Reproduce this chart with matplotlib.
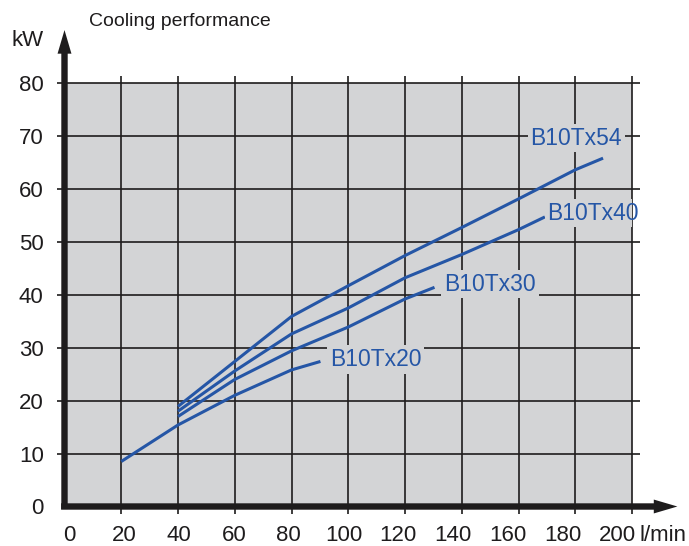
import matplotlib.pyplot as plt
import numpy as np

plt.rcParams['font.family'] = ['Liberation Sans', 'DejaVu Sans']

# === Dados ===
x_20 = [20, 40, 60, 80, 90.2]
y_20 = [8.5, 15.4, 21.0, 25.8, 27.4]

x_30 = [40, 60, 80, 100, 120, 130.4]
y_30 = [17.0, 24.0, 29.4, 33.9, 39.2, 41.4]

x_40 = [40, 60, 80, 100, 120, 140, 160, 169.3]
y_40 = [18.0, 25.6, 32.6, 37.5, 43.2, 47.6, 52.3, 54.7]

x_54 = [40, 60, 80, 100, 120, 140, 160, 180, 189.8]
y_54 = [18.9, 27.4, 35.9, 41.7, 47.4, 52.7, 58.1, 63.6, 65.8]

curvas = [
    ('B10Tx20', x_20, y_20, (93.5, 27.8)),
    ('B10Tx30', x_30, y_30, (133.8, 42.0)),
    ('B10Tx40', x_40, y_40, (170.2, 55.4)),
    ('B10Tx54', x_54, y_54, (164.2, 69.6)),
]

grade_x = [20, 40, 60, 80, 100, 120, 140, 160, 180, 200]
grade_y = [10, 20, 30, 40, 50, 60, 70, 80]

# no original os rótulos do eixo x ficam um pouco deslocados da grade
x_labels = ['0', '20', '40', '60', '80', '100', '120', '140', '160', '180', '200']
x_label_pos = [1.8, 21.1, 40.4, 59.7, 79.0, 98.3, 117.6, 136.9, 156.2, 175.5, 194.9]
y_ticks = [0, 10, 20, 30, 40, 50, 60, 70, 80]

azul = '#2556a6'
cinza = '#d3d4d6'
preto = '#1e1c1d'

fig = plt.figure(figsize=(6.89, 5.46), dpi=100)
ax = fig.add_axes([64.5 / 689, 1 - 506.5 / 546, 567.5 / 689, 423.5 / 546])
ax.set_xlim(0, 200)
ax.set_ylim(0, 80)
ax.set_facecolor(cinza)
for s in ax.spines.values():
    s.set_visible(False)

# === Grade (passa um pouco para fora da área) ===
ax.vlines(grade_x, -1.5, 81.4, color=preto, lw=1.2, clip_on=False, zorder=1)
ax.hlines(grade_y, -2.5, 202.7, color=preto, lw=1.2, clip_on=False, zorder=1)

# === Curvas ===
for nome, xs, ys, pos in curvas:
    ax.plot(xs, ys, color=azul, lw=2.2, zorder=3, solid_capstyle='butt')
    t = ax.text(pos[0], pos[1], nome, color=azul, fontsize=16.5, ha='left',
                va='center', zorder=4,
                bbox=dict(boxstyle='square,pad=0.12', fc=cinza, ec='none'))
    caixa = t.get_bbox_patch()
    caixa.set_clip_on(True)
    caixa.set_clip_box(ax.bbox)

# === Eixos com setas ===
estilo = 'simple,head_length=1.7,head_width=1.0,tail_width=0.46'
ax.annotate('', xy=(0, 1.125), xytext=(0, -0.006), xycoords='axes fraction',
            arrowprops=dict(arrowstyle=estilo, mutation_scale=10, color=preto,
                            lw=0, shrinkA=0, shrinkB=0),
            annotation_clip=False, zorder=6)
ax.annotate('', xy=(1.08, 0), xytext=(-0.006, 0), xycoords='axes fraction',
            arrowprops=dict(arrowstyle=estilo, mutation_scale=10, color=preto,
                            lw=0, shrinkA=0, shrinkB=0),
            annotation_clip=False, zorder=6)

ax.set_xticks(x_label_pos, x_labels)
ax.set_yticks(y_ticks)
ax.tick_params(axis='both', length=0, labelsize=16, labelcolor=preto)
ax.tick_params(axis='x', pad=13)
ax.tick_params(axis='y', pad=15)

ax.annotate('l/min', xy=(202.6, 0), xytext=(0, -13), textcoords='offset points',
            ha='left', va='top', fontsize=16, color=preto, annotation_clip=False)
fig.text(44 / 689, 1 - 41 / 546, 'kW', ha='right', va='center', fontsize=16,
         color=preto)
fig.text(89 / 689, 1 - 22 / 546, 'Cooling performance', ha='left', va='center',
         fontsize=14, color=preto)

plt.savefig('out.png', dpi=100)
